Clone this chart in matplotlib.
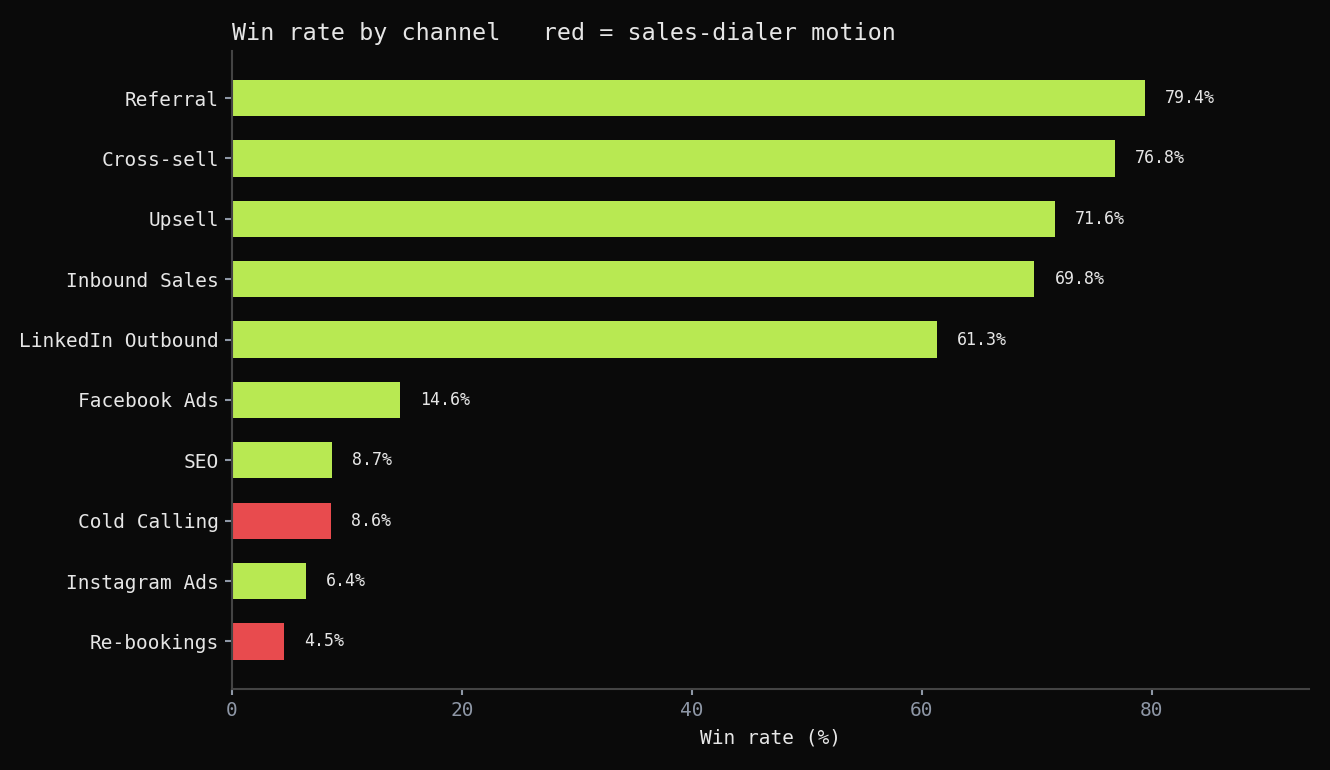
import matplotlib
matplotlib.use("Agg")
import matplotlib.pyplot as plt

channels = ["Referral", "Cross-sell", "Upsell", "Inbound Sales", "LinkedIn Outbound",
            "Facebook Ads", "SEO", "Cold Calling", "Instagram Ads", "Re-bookings"]
win_rates = [79.4, 76.8, 71.6, 69.8, 61.3, 14.6, 8.7, 8.6, 6.4, 4.5]
dialer = [False, False, False, False, False, False, False, True, False, True]

BG = "#0a0a0a"
GREEN = "#b8e952"
RED = "#e84b4e"
TXT = "#e6e6e6"
TICK = "#8e97a6"
SPINE = "#444444"

plt.rcParams["font.family"] = ["DejaVu Sans Mono", "DejaVu Sans"]

fig = plt.figure(figsize=(13.3, 7.7), dpi=100, facecolor=BG)
ax = fig.add_axes([232/1330, 1 - 688.5/770, (1309-232)/1330, (688.5-51)/770])
ax.set_facecolor(BG)

ypos = list(range(len(channels)))
colors = [RED if d else GREEN for d in dialer]
ax.barh(ypos, win_rates, height=0.6, color=colors)
ax.set_yticks(ypos)
ax.set_yticklabels(channels)
ax.invert_yaxis()
ax.set_xlim(0, max(win_rates) * 1.18)

for y, v in zip(ypos, win_rates):
    ax.text(v + 1.75, y, f"{v:.1f}%", va="center", ha="left", color=TXT, fontsize=12)

for s in ["top", "right"]:
    ax.spines[s].set_visible(False)
for s in ["left", "bottom"]:
    ax.spines[s].set_color(SPINE)
    ax.spines[s].set_linewidth(1.5)

ax.tick_params(axis="y", colors=TICK, labelcolor=TXT, labelsize=14, length=5, width=1.5, pad=4.5)
ax.tick_params(axis="x", colors=TICK, labelcolor=TICK, labelsize=14, length=4, width=1.5, pad=5)
ax.set_xlabel("Win rate (%)", color=TXT, fontsize=14, labelpad=6)
ax.set_title("Win rate by channel   red = sales-dialer motion", loc="left",
             color=TXT, fontsize=16.8, pad=8)

fig.savefig("out.png", dpi=100, facecolor=BG)
